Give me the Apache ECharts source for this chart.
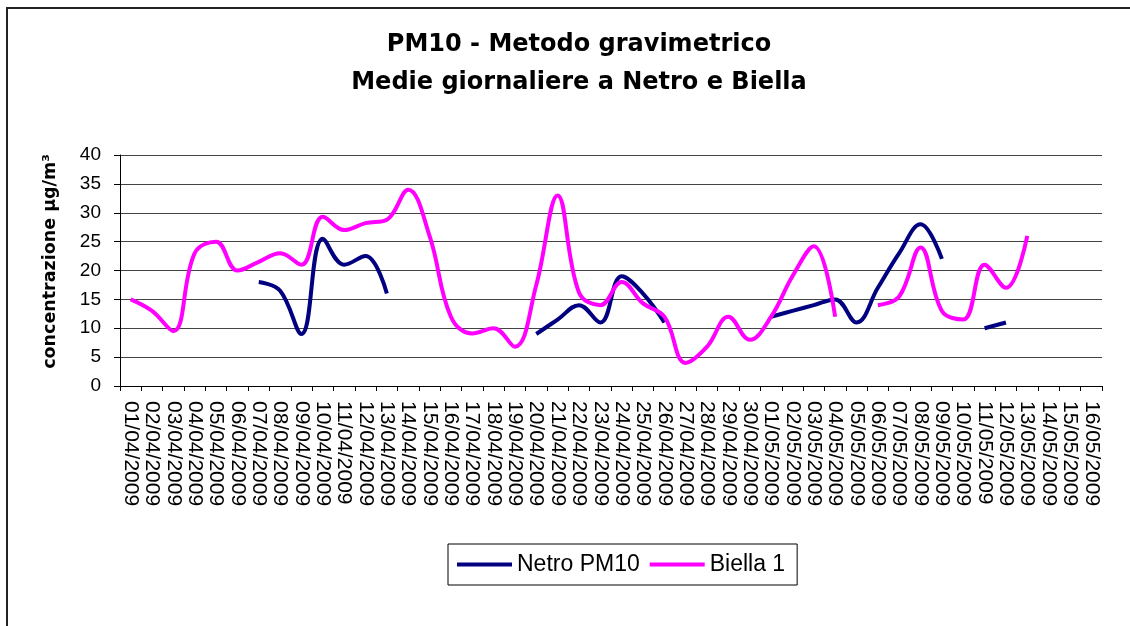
<!DOCTYPE html>
<html>
<head>
<meta charset="utf-8">
<title>PM10 - Metodo gravimetrico</title>
<script src="https://cdn.jsdelivr.net/npm/echarts@6/dist/echarts.min.js"></script>
<style>
  html, body { margin: 0; padding: 0; background: #fff; }
  #chart { width: 1130px; height: 626px; }
</style>
</head>
<body>
<div id="chart"></div>
<script>
// daily labels, 01/04/2009 .. 16/05/2009
const days = [
  "01/04/2009", "02/04/2009", "03/04/2009", "04/04/2009", "05/04/2009", "06/04/2009",
  "07/04/2009", "08/04/2009", "09/04/2009", "10/04/2009", "11/04/2009", "12/04/2009",
  "13/04/2009", "14/04/2009", "15/04/2009", "16/04/2009", "17/04/2009", "18/04/2009",
  "19/04/2009", "20/04/2009", "21/04/2009", "22/04/2009", "23/04/2009", "24/04/2009",
  "25/04/2009", "26/04/2009", "27/04/2009", "28/04/2009", "29/04/2009", "30/04/2009",
  "01/05/2009", "02/05/2009", "03/05/2009", "04/05/2009", "05/05/2009", "06/05/2009",
  "07/05/2009", "08/05/2009", "09/05/2009", "10/05/2009", "11/05/2009", "12/05/2009",
  "13/05/2009", "14/05/2009", "15/05/2009", "16/05/2009"
];

// Netro PM10 (null = no measurement)
const netro = [
  null, null, null, null, null, null,
  18, 16.5, 9, 25.5, 21, 22.5,
  16, null, null, null, null, null,
  null, 9, 11.5, 14, 11, 19,
  16, 11, null, null, null, null,
  12, 13, 14, 15, 11, 17,
  23, 28, 22, null, 10, 11,
  null, null, null, null
];

// Biella 1
const biella = [
  15, 13, 9.5, 23, 25, 20,
  21.5, 23, 21, 29.3, 27, 28.2,
  28.8, 34, 26, 12, 9.1, 10,
  6.8, 17.5, 33, 16.2, 14, 18,
  14.3, 12, 4, 6.8, 12, 8,
  12, 19, 24.2, 12, null, 14,
  15.5, 24, 13, 11.5, 21, 17,
  26, null, null, null
];

const yTicks = { min: 0, max: 40, step: 5 };

const fontMain = "'Liberation Sans', Arial, sans-serif";
const fontBold = "'DejaVu Sans', sans-serif";

const chart = echarts.init(document.getElementById("chart"), null, { renderer: "canvas" });

chart.setOption({
  animation: false,
  backgroundColor: "#fff",
  color: ["#000080", "#ff00ff"],
  title: {
    text: "PM10 - Metodo gravimetrico\nMedie giornaliere a Netro e Biella",
    left: 574,
    textAlign: "center",
    top: 21,
    padding: 5,
    textStyle: {
      fontFamily: fontBold,
      fontWeight: "bold",
      fontSize: 24,
      lineHeight: 38,
      color: "#000",
    },
  },
  graphic: [
    {
      type: "rect",
      shape: { x: 7, y: 8, width: 1300, height: 800 },
      style: { fill: null, stroke: "#222", lineWidth: 2 },
      silent: true,
    },
  ],
  legend: {
    left: 448,
    top: 544,
    padding: [9, 12, 9, 9],
    itemGap: 10,
    itemWidth: 55,
    itemHeight: 4,
    icon: "rect",
    borderColor: "#000",
    borderWidth: 1,
    backgroundColor: "#fff",
    textStyle: { fontFamily: fontMain, fontSize: 23, color: "#000" },
    data: ["Netro PM10", "Biella 1"],
  },
  grid: {
    left: 120,
    right: 28,
    top: 155,
    bottom: 240,
    containLabel: false,
    outerBoundsMode: "none",
  },
  xAxis: {
    type: "category",
    data: days,
    boundaryGap: true,
    axisLine: { lineStyle: { color: "#000", width: 1 } },
    axisTick: { show: true, length: 5, interval: 0, lineStyle: { color: "#000" } },
    axisLabel: {
      interval: 0,
      rotate: -90,
      margin: 15,
      fontFamily: fontMain,
      fontSize: 21,
      color: "#000",
    },
    splitLine: { show: false },
  },
  yAxis: {
    type: "value",
    min: yTicks.min,
    max: yTicks.max,
    interval: yTicks.step,
    name: "concentrazione µg/m³",
    nameLocation: "middle",
    nameRotate: 90,
    nameGap: 61,
    nameTextStyle: {
      fontFamily: fontBold,
      fontWeight: "bold",
      fontSize: 17.5,
      color: "#000",
      padding: [0, 0, 0, 18],
    },
    axisLine: { show: true, lineStyle: { color: "#000", width: 1 } },
    axisTick: { show: true, length: 6, lineStyle: { color: "#000" } },
    axisLabel: { margin: 19, fontFamily: fontMain, fontSize: 19, color: "#000" },
    splitLine: { show: true, lineStyle: { color: "#444", width: 1 } },
  },
  series: [
    {
      name: "Netro PM10",
      type: "line",
      data: netro,
      smooth: 0.4,
      showSymbol: false,
      connectNulls: false,
      lineStyle: { width: 4, color: "#000080" },
    },
    {
      name: "Biella 1",
      type: "line",
      data: biella,
      smooth: 0.4,
      showSymbol: false,
      connectNulls: false,
      lineStyle: { width: 4, color: "#ff00ff" },
    },
  ],
});
</script>
</body>
</html>
